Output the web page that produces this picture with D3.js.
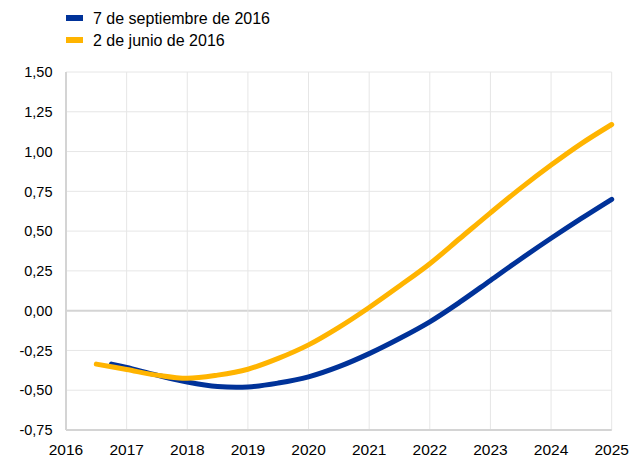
<!DOCTYPE html>
<html><head><meta charset="utf-8">
<script src="https://cdn.jsdelivr.net/npm/d3@7"></script>
<style>body{margin:0;background:#fff}svg{display:block}text{font-family:Arial,"Liberation Sans",sans-serif;fill:#000}</style>
</head><body>
<svg id="c" width="632" height="457"></svg>
<script>
const seriesNames = ["7 de septiembre de 2016", "2 de junio de 2016"];
const seriesColors = ["#003299", "#FFB400"];
const septYears = [2016.75, 2017, 2017.5, 2018, 2018.5, 2019, 2019.5, 2020, 2020.5, 2021, 2021.5, 2022, 2022.5, 2023, 2023.5, 2024, 2024.5, 2025];
const septValues = [-0.336, -0.357, -0.405, -0.448, -0.477, -0.480, -0.455, -0.416, -0.352, -0.270, -0.175, -0.070, 0.055, 0.190, 0.325, 0.455, 0.580, 0.700];
const junYears = [2016.5, 2017, 2017.5, 2018, 2018.5, 2019, 2019.5, 2020, 2020.5, 2021, 2021.5, 2022, 2022.5, 2023, 2023.5, 2024, 2024.5, 2025];
const junValues = [-0.336, -0.370, -0.405, -0.425, -0.405, -0.368, -0.300, -0.215, -0.105, 0.020, 0.155, 0.295, 0.455, 0.615, 0.770, 0.915, 1.050, 1.170];
const xTicks = [2016, 2017, 2018, 2019, 2020, 2021, 2022, 2023, 2024, 2025];
const yTicks = [-0.75, -0.5, -0.25, 0, 0.25, 0.5, 0.75, 1.0, 1.25, 1.5];

const svg = d3.select("#c");
const x = d3.scaleLinear().domain([2016, 2025]).range([66, 611.7]);
const y = d3.scaleLinear().domain([-0.75, 1.5]).range([430, 72]);
const fmt = v => d3.format(".2f")(v).replace(".", ",").replace("−", "-");

// gridlines
svg.append("g").selectAll("line").data(yTicks).join("line")
  .attr("x1", x(2016)).attr("x2", x(2025))
  .attr("y1", d => y(d)).attr("y2", d => y(d))
  .attr("stroke", d => d === 0 ? "#d4d4d4" : "#e6e6e6").attr("stroke-width", d => d === 0 ? 2 : 1);
svg.append("g").selectAll("line").data(xTicks.slice(1)).join("line")
  .attr("x1", d => x(d)).attr("x2", d => x(d))
  .attr("y1", y(1.5)).attr("y2", y(-0.75))
  .attr("stroke", "#e6e6e6").attr("stroke-width", 1);
// axes lines
svg.append("line").attr("x1", x(2016)).attr("x2", x(2016)).attr("y1", y(1.5)).attr("y2", y(-0.75)).attr("stroke", "#d4d4d4").attr("stroke-width", 2);
svg.append("line").attr("x1", x(2016)).attr("x2", x(2025)).attr("y1", y(-0.75)).attr("y2", y(-0.75)).attr("stroke", "#d4d4d4").attr("stroke-width", 2);

// y labels
svg.append("g").selectAll("text").data(yTicks).join("text")
  .attr("x", 52.5).attr("y", d => y(d)).attr("dy", "0.36em")
  .attr("text-anchor", "end").attr("font-size", 14.5).text(d => fmt(d));
// x labels
svg.append("g").selectAll("text").data(xTicks).join("text")
  .attr("x", d => x(d)).attr("y", 455)
  .attr("text-anchor", "middle").attr("font-size", 15.5).text(d => d);

const line = d3.line().x(d => x(d[0])).y(d => y(d[1])).curve(d3.curveCatmullRom.alpha(0.5));
const sept = septYears.map((t, i) => [t, septValues[i]]);
const jun = junYears.map((t, i) => [t, junValues[i]]);
[sept, jun].forEach((s, i) => {
  svg.append("path").datum(s).attr("d", line).attr("fill", "none")
    .attr("stroke", seriesColors[i]).attr("stroke-width", 5).attr("stroke-linecap", "round");
});

// legend
seriesNames.forEach((n, i) => {
  const cy = 18 + i * 22;
  svg.append("rect").attr("x", 66).attr("y", cy - 3).attr("width", 17).attr("height", 6).attr("fill", seriesColors[i]);
  svg.append("text").attr("x", 93).attr("y", cy + 6).attr("font-size", 16).text(n);
});
</script>
</body></html>
